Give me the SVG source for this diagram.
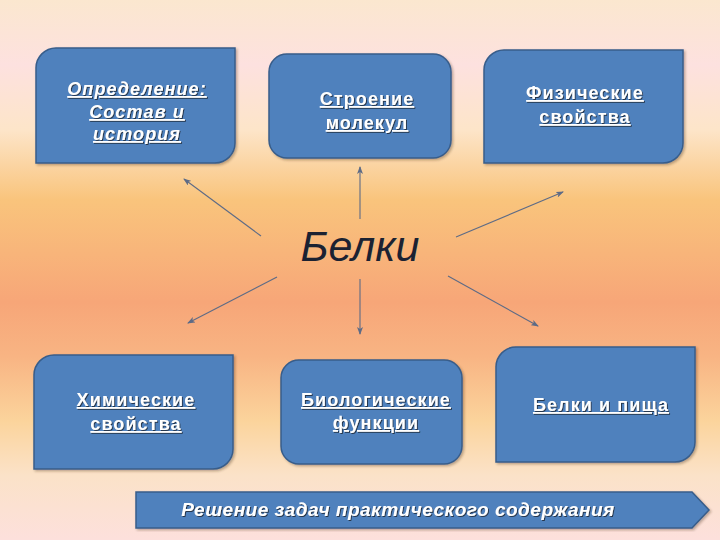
<svg xmlns="http://www.w3.org/2000/svg" width="720" height="540" viewBox="0 0 720 540">
  <defs>
    <linearGradient id="bg" x1="0" y1="0" x2="0" y2="1">
      <stop offset="0" stop-color="#fbe7cf"/>
      <stop offset="0.12" stop-color="#fde1df"/>
      <stop offset="0.24" stop-color="#fde5c9"/>
      <stop offset="0.37" stop-color="#f9c47c"/>
      <stop offset="0.56" stop-color="#f7a678"/>
      <stop offset="0.66" stop-color="#f8b483"/>
      <stop offset="0.78" stop-color="#fbd49c"/>
      <stop offset="0.88" stop-color="#fbe2c8"/>
      <stop offset="1" stop-color="#fde0dc"/>
    </linearGradient>
    <filter id="ts" x="-10%" y="-30%" width="120%" height="160%">
      <feDropShadow dx="1" dy="1" stdDeviation="0.4" flood-color="#1f2a3a" flood-opacity="0.85"/>
    </filter>
    <filter id="bs" x="-5%" y="-5%" width="115%" height="115%">
      <feDropShadow dx="1.5" dy="1.5" stdDeviation="1" flood-color="#3a2a20" flood-opacity="0.35"/>
    </filter>
    <marker id="ah" viewBox="0 0 8 6" refX="7" refY="3" markerWidth="8" markerHeight="6" markerUnits="userSpaceOnUse" orient="auto">
      <path d="M0,0 L8,3 L0,6 L2,3 Z" fill="#5d6b86"/>
    </marker>
    <style>
      .box { fill: #4f81bd; stroke: #385d8a; stroke-width: 1.5; filter: url(#bs); }
      .lbl { font-family: "Liberation Sans", Arial, sans-serif; font-weight: bold; font-size: 18px; fill: #ffffff; text-anchor: middle; text-decoration: underline; letter-spacing: 1.1px; filter: url(#ts); }
      .it { font-style: italic; }
      .con line { stroke: #5d6b86; stroke-width: 1.1; marker-end: url(#ah); }
    </style>
  </defs>

  <rect x="0" y="0" width="720" height="540" fill="url(#bg)"/>

  <g id="connectors" class="con">
    <line x1="261" y1="236" x2="184" y2="179"/>
    <line x1="360" y1="219" x2="360" y2="167"/>
    <line x1="456" y1="237" x2="563" y2="192"/>
    <line x1="277" y1="277" x2="188" y2="323"/>
    <line x1="360" y1="279" x2="360" y2="334"/>
    <line x1="448" y1="276" x2="538" y2="326"/>
  </g>

  <g id="center">
    <text x="360" y="261" font-family="Liberation Sans, Arial, sans-serif" font-style="italic" font-size="43" fill="#1b2232" text-anchor="middle">Белки</text>
  </g>

  <g id="node-definition">
    <path class="box" d="M36,68 A20,20 0 0 1 56,48 L235,48 L235,143 A20,20 0 0 1 215,163 L36,163 Z"/>
    <text class="lbl it" x="137" y="95">Определение:</text>
    <text class="lbl it" x="137" y="118">Состав и</text>
    <text class="lbl it" x="137" y="140">история</text>
  </g>

  <g id="node-structure">
    <rect class="box" x="269" y="54" width="182" height="104" rx="18" ry="18"/>
    <text class="lbl" x="367" y="105">Строение</text>
    <text class="lbl" x="367" y="129">молекул</text>
  </g>

  <g id="node-physical">
    <path class="box" d="M484,70 A20,20 0 0 1 504,50 L683,50 L683,143 A20,20 0 0 1 663,163 L484,163 Z"/>
    <text class="lbl" x="585" y="99">Физические</text>
    <text class="lbl" x="585" y="123">свойства</text>
  </g>

  <g id="node-chemical">
    <path class="box" d="M34,375 A20,20 0 0 1 54,355 L233,355 L233,449 A20,20 0 0 1 213,469 L34,469 Z"/>
    <text class="lbl" x="136" y="406">Химические</text>
    <text class="lbl" x="136" y="430">свойства</text>
  </g>

  <g id="node-biological">
    <rect class="box" x="281" y="360" width="181" height="104" rx="18" ry="18"/>
    <text class="lbl" x="376" y="406">Биологические</text>
    <text class="lbl" x="376" y="429">функции</text>
  </g>

  <g id="node-food">
    <path class="box" d="M496,367 A20,20 0 0 1 516,347 L695,347 L695,442 A20,20 0 0 1 675,462 L496,462 Z"/>
    <text class="lbl" x="601" y="411">Белки и пища</text>
  </g>

  <g id="node-tasks">
    <path class="box" d="M136,492 L692,492 L709,510 L692,528 L136,528 Z"/>
    <text x="398" y="516" font-family="Liberation Sans, Arial, sans-serif" font-weight="bold" font-style="italic" font-size="19" fill="#ffffff" text-anchor="middle" letter-spacing="0.5" filter="url(#ts)">Решение задач практического содержания</text>
  </g>
</svg>
